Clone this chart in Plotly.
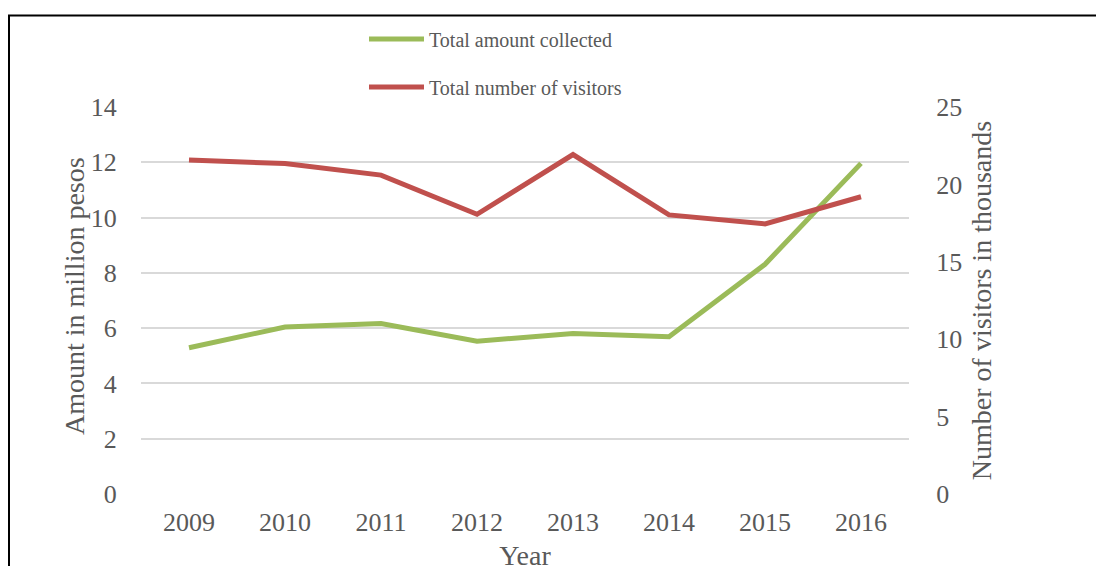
import plotly.graph_objects as go

years = ["2009", "2010", "2011", "2012", "2013", "2014", "2015", "2016"]
amount_million_pesos = [5.29, 6.04, 6.17, 5.53, 5.81, 5.69, 8.31, 11.96]
visitors_thousands = [21.57, 21.35, 20.6, 18.07, 21.93, 18.03, 17.45, 19.2]

FONT = "Liberation Serif"
TXT = "#595959"
W, H = 1104, 600   # taller than the window so the cut-off bottom stays out of view
# page body has an 8px margin: figure coords = screen coords - 8
L, R, T, B = 133, 203, 96, 113
pw, ph = W - L - R, H - T - B

fig = go.Figure()
fig.add_trace(go.Scatter(x=years, y=amount_million_pesos, name="Total amount collected",
                         mode="lines", line=dict(color="#9BBB59", width=5),
                         legendgroup="a", yaxis="y"))
fig.add_trace(go.Scatter(x=years, y=visitors_thousands, name="Total number of visitors",
                         mode="lines", line=dict(color="#C0504D", width=5),
                         legendgroup="b", yaxis="y2"))

def px2x(p):
    return (p - L) / pw

def py2y(p):
    return 1 - (p - T) / ph

fig.add_shape(type="rect", xref="paper", yref="paper",
              x0=px2x(1), x1=px2x(1120), y0=py2y(620), y1=py2y(5),
              line=dict(color="black", width=2), fillcolor="rgba(0,0,0,0)", layer="below")

fig.add_annotation(text="Amount in million pesos", textangle=-90, showarrow=False,
                   xref="paper", yref="paper", x=px2x(66), y=py2y(287),
                   xanchor="center", yanchor="middle",
                   font=dict(family=FONT, size=28, color=TXT))

fig.update_layout(
    width=W, height=H,
    margin=dict(l=L, r=R, t=T, b=B, pad=0),
    paper_bgcolor="white", plot_bgcolor="white",
    font=dict(family=FONT, color=TXT, size=26),
    showlegend=True,
    legend=dict(x=px2x(356), y=py2y(9), xanchor="left", yanchor="top",
                font=dict(family=FONT, size=20, color=TXT),
                tracegroupgap=19, itemwidth=55, bgcolor="rgba(0,0,0,0)"),
    xaxis=dict(type="category", range=[-0.5, 7.5], showgrid=False, zeroline=False,
               showline=False, ticks="outside", ticklen=4, tickcolor="rgba(0,0,0,0)",
               tickfont=dict(size=26, color=TXT),
               title=dict(text="Year", font=dict(size=28, color=TXT), standoff=9)),
    yaxis=dict(range=[-0.036, 14.036], tickvals=[0, 2, 4, 6, 8, 10, 12, 14],
               showgrid=True, gridcolor="#D9D9D9", gridwidth=1.5,
               zeroline=False, showline=False, ticks="outside", ticklen=18,
               tickcolor="rgba(0,0,0,0)", tickfont=dict(size=26, color=TXT)),
    yaxis2=dict(range=[-0.0643, 25.0643], tickvals=[0, 5, 10, 15, 20, 25], overlaying="y",
                side="right", showgrid=False,
                zeroline=False, showline=False, ticks="outside", ticklen=21,
                tickcolor="rgba(0,0,0,0)", tickfont=dict(size=26, color=TXT),
                title=dict(text="Number of visitors in thousands", font=dict(size=28, color=TXT), standoff=10)),
)

fig.write_html("out.html")
